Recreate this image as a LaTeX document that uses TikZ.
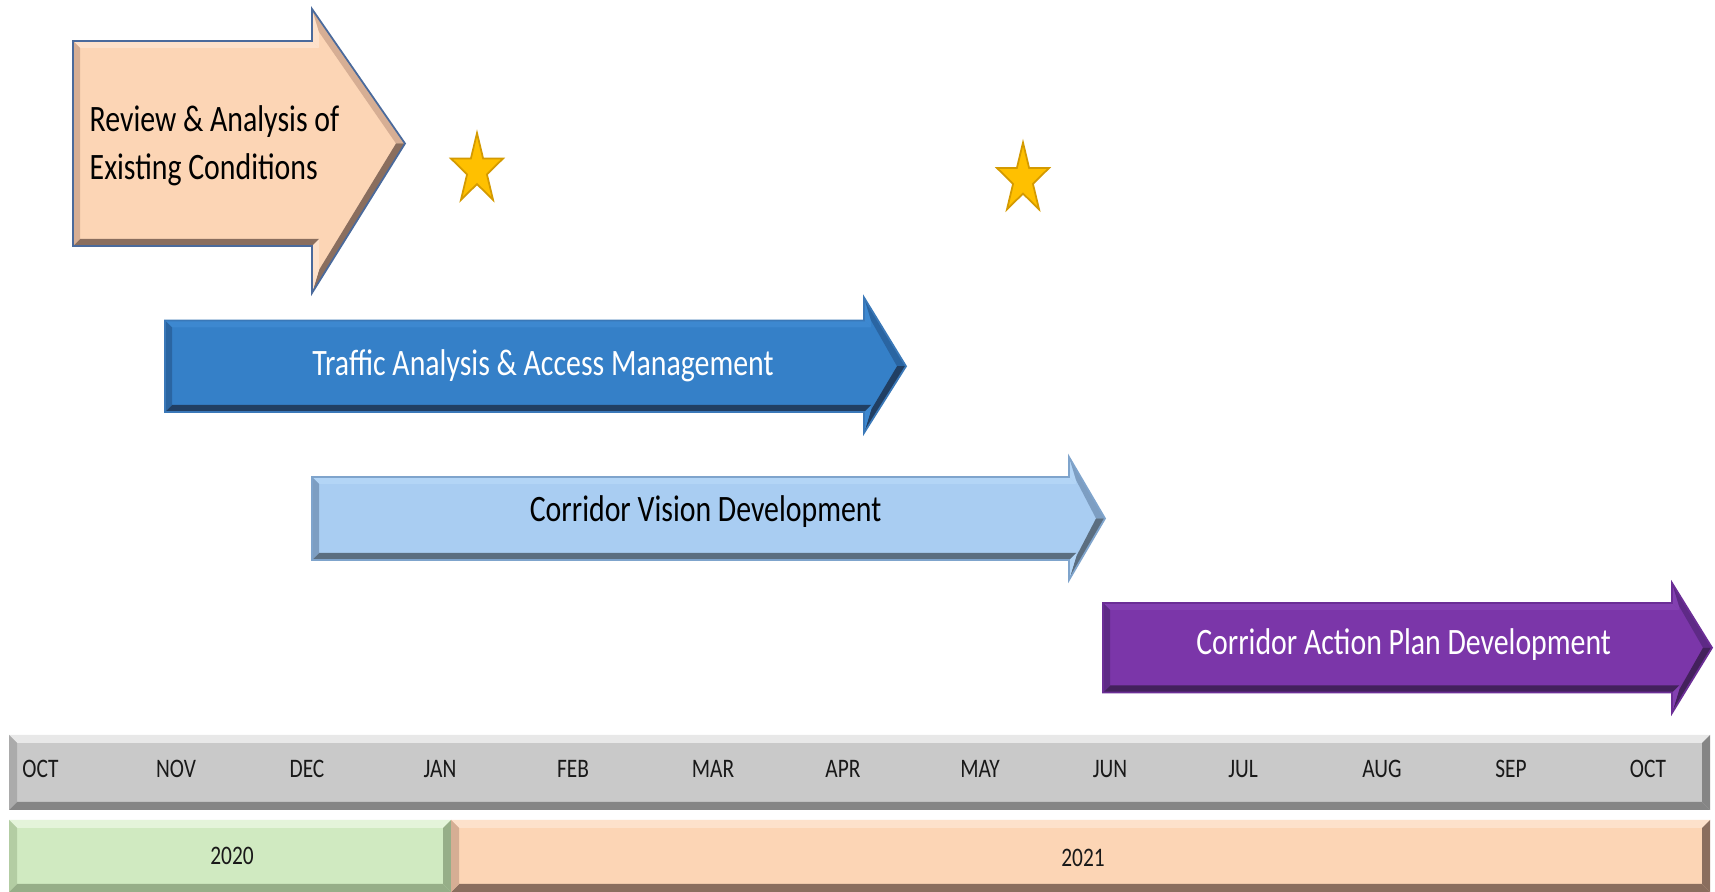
\documentclass[tikz,border=0pt]{standalone}
\usepackage{fontspec}
\usepackage{tikz}
\newfontfamily\labelfont{Carlito}[FakeStretch=0.8]
\definecolor{peachbase}{HTML}{FCD5B5}
\definecolor{peachlight}{HTML}{FDE1CB}
\definecolor{peachside}{HTML}{D6AE94}
\definecolor{peachdark}{HTML}{8A6E5E}
\definecolor{peachedge}{HTML}{4A6A9C}
\definecolor{steelbase}{HTML}{3580C8}
\definecolor{steellight}{HTML}{3D88D0}
\definecolor{steelside}{HTML}{2A65A2}
\definecolor{steeldark}{HTML}{213F63}
\definecolor{steeledge}{HTML}{3A78B8}
\definecolor{skybase}{HTML}{A9CDF2}
\definecolor{skylight}{HTML}{B3D5F6}
\definecolor{skyside}{HTML}{7D9EC2}
\definecolor{skydark}{HTML}{5B6E80}
\definecolor{skyedge}{HTML}{7FA4CC}
\definecolor{plumbase}{HTML}{7B36A9}
\definecolor{plumlight}{HTML}{8340B1}
\definecolor{plumside}{HTML}{5E2A86}
\definecolor{plumdark}{HTML}{43215C}
\definecolor{plumedge}{HTML}{6B2E96}
\definecolor{graybase}{HTML}{C9C9C9}
\definecolor{graylight}{HTML}{E8E8E8}
\definecolor{grayside}{HTML}{ABABAB}
\definecolor{graydark}{HTML}{858585}
\definecolor{greenbase}{HTML}{D0EAC1}
\definecolor{greenlight}{HTML}{E4F4DA}
\definecolor{greenside}{HTML}{B3CDA3}
\definecolor{greendark}{HTML}{96AE88}
\definecolor{starfill}{HTML}{FFC000}
\definecolor{starline}{HTML}{D49A00}
% left, top, bottom, head x, head top, head bottom, tip x, colour
\newcommand{\bevelarrow}[8]{\fill[#8base] (#1,#2) -- (#4,#2) -- (#4,#5) -- (#7,{(#2+#3)/2}) -- (#4,#6) -- (#4,#3) -- (#1,#3) -- cycle;
					\fill[#8light] (#1,#2) -- (#4,#2) -- (#4+7,#2+7) -- (#1+7,#2+7) -- cycle;
					\fill[#8light] (#4,#2) -- (#4,#5) -- (#4+7,#5+23) -- (#4+7,#2+7) -- cycle;
					\fill[#8side] (#4,#5) -- (#7,{(#2+#3)/2}) -- (#7-9,{(#2+#3)/2}) -- (#4+7,#5+23) -- cycle;
					\fill[#8dark] (#7,{(#2+#3)/2}) -- (#4,#6) -- (#4+7,#6-23) -- (#7-9,{(#2+#3)/2}) -- cycle;
					\fill[#8light] (#4,#6) -- (#4,#3) -- (#4+7,#3-7) -- (#4+7,#6-23) -- cycle;
					\fill[#8dark] (#4,#3) -- (#1,#3) -- (#1+7,#3-7) -- (#4+7,#3-7) -- cycle;
					\fill[#8side] (#1,#3) -- (#1,#2) -- (#1+7,#2+7) -- (#1+7,#3-7) -- cycle;
					\draw[#8edge, line width=0.5pt] (#1,#2) -- (#4,#2) -- (#4,#5) -- (#7,{(#2+#3)/2}) -- (#4,#6) -- (#4,#3) -- (#1,#3) -- cycle;}
% left, top, right, bottom, colour
\newcommand{\bevelbar}[5]{\fill[#5base] (#1,#2) rectangle (#3,#4);
					\fill[#5light] (#1,#2) -- (#3,#2) -- (#3-8,#2+8) -- (#1+8,#2+8) -- cycle;
					\fill[#5dark] (#1,#4) -- (#3,#4) -- (#3-8,#4-8) -- (#1+8,#4-8) -- cycle;
					\fill[#5side] (#1,#2) -- (#1+8,#2+8) -- (#1+8,#4-8) -- (#1,#4) -- cycle;
					\fill[#5dark] (#3,#2) -- (#3-8,#2+8) -- (#3-8,#4-8) -- (#3,#4) -- cycle;}
\newcommand{\goldstar}{\filldraw[fill=starfill, draw=starline, line width=0.5pt] (-90:36.9) -- (-54:14.1) -- (-18:36.9) -- (18:14.1) -- (54:36.9) -- (90:14.1) -- (126:36.9) -- (162:14.1) -- (198:36.9) -- (234:14.1) -- cycle;}
\tikzset{title/.style={font=\labelfont\fontsize{10.6}{12}\selectfont, inner sep=0pt},
	month/.style={font=\labelfont\fontsize{7.6}{9}\selectfont, inner sep=0pt, text=black!90, anchor=base}}

\begin{document}
\begin{tikzpicture}[x=0.01cm, y=-0.01cm]

					\fill[white] (0,0) rectangle (1715,892);
					\useasboundingbox (0,0) rectangle (1715,892);

					\bevelarrow{73}{41}{246}{312}{9}{293}{405}{peach}
					\bevelarrow{165}{320.5}{412}{864}{297.5}{433}{906}{steel}
					\bevelarrow{312}{477}{560}{1069}{457}{580}{1105}{sky}
					\bevelarrow{1103}{603}{692.5}{1672}{583}{713}{1712}{plum}

					\node[title, anchor=base west] (review) at (89,132) {Review \& Analysis of};
					\node[title, anchor=base west] (existing) at (89,180) {Existing Conditions};
					\node[title, anchor=base, text=white!94] (traffic) at (543,376) {Traffic Analysis \& Access Management};
					\node[title, anchor=base] (vision) at (705.6,522) {Corridor Vision Development};
					\node[title, anchor=base, text=white!94] (action) at (1403.6,655) {Corridor Action Plan Development};

					\begin{scope}[shift={(477,170)}, xscale=0.74]
						\goldstar
					\end{scope}

					\begin{scope}[shift={(1023,179.5)}, xscale=0.74]
						\goldstar
					\end{scope}

					\bevelbar{9}{735}{1710}{810}{gray}
					\bevelbar{9}{820}{451}{892}{green}
					\bevelbar{451}{820}{1710}{892}{peach}

					\node[month] (oct1) at (40.5,778) {OCT};
					\node[month] (nov) at (176,778) {NOV};
					\node[month] (dec) at (307,778) {DEC};
					\node[month] (jan) at (440,778) {JAN};
					\node[month] (feb) at (573,778) {FEB};
					\node[month] (mar) at (713,778) {MAR};
					\node[month] (apr) at (843,778) {APR};
					\node[month] (may) at (980,778) {MAY};
					\node[month] (jun) at (1110,778) {JUN};
					\node[month] (jul) at (1243,778) {JUL};
					\node[month] (aug) at (1382,778) {AUG};
					\node[month] (sep) at (1511,778) {SEP};
					\node[month] (oct2) at (1648,778) {OCT};

					\node[month] (y2020) at (232,865) {2020};
					\node[month] (y2021) at (1083,867) {2021};

\end{tikzpicture}
\end{document}
